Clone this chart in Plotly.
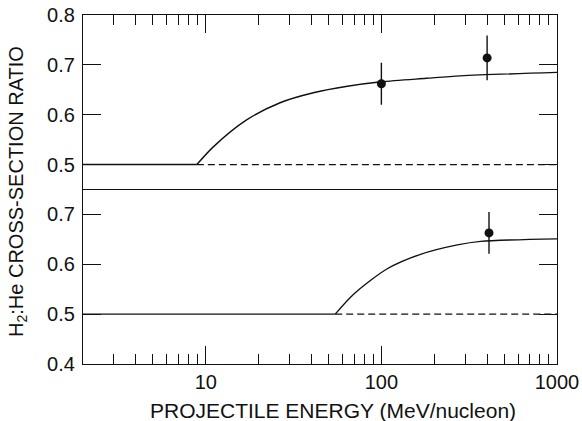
import numpy as np
import plotly.graph_objects as go

# ---- data -------------------------------------------------------------
# panel (a): model curve (rises from the 0.5 baseline above threshold)
a_curve_x = [8.9, 11, 17, 26.5, 41, 64, 100, 180, 282, 1000]
a_curve_y = [0.5, 0.535, 0.589, 0.624, 0.644, 0.657, 0.666, 0.673, 0.678, 0.685]
a_thresh = 8.9
# panel (a): measurements
a_pts_x = [100, 400]
a_pts_y = [0.662, 0.714]
a_pts_err = [0.042, 0.045]

# panel (b): model curve
b_curve_x = [54.6, 69.5, 108, 167, 271, 368, 1000]
b_curve_y = [0.5, 0.54, 0.591, 0.62, 0.639, 0.646, 0.651]
b_thresh = 54.6
# panel (b): measurement
b_pts_x = [410]
b_pts_y = [0.663]
b_pts_err = [0.042]

baseline = 0.5
x_min, x_max = 2, 1000

x_major = [10, 100, 1000]
x_major_text = ["10", "100", "1000"]
x_minor = [v * d for d in (1, 10, 100) for v in range(2, 10) if 2 < v * d < 1000 and v * d not in (10, 100)]

ya_ticks = [0.5, 0.6, 0.7, 0.8]
yb_ticks = [0.4, 0.5, 0.6, 0.7]

FONT = "Liberation Sans, Arial, Helvetica, sans-serif"
BLACK = "#111111"

fig = go.Figure()


def add_panel(xref, yref, thresh, cx, cy, px, py, perr):
    # flat solid segment below threshold
    fig.add_trace(go.Scatter(x=[x_min, thresh], y=[baseline, baseline], mode="lines",
                             line=dict(color=BLACK, width=1.4), xaxis=xref, yaxis=yref,
                             showlegend=False, hoverinfo="skip"))
    # dashed continuation of the baseline
    fig.add_trace(go.Scatter(x=[thresh, x_max], y=[baseline, baseline], mode="lines",
                             line=dict(color=BLACK, width=1.2, dash="7px,4px"),
                             xaxis=xref, yaxis=yref, showlegend=False, hoverinfo="skip"))
    # rising model curve
    fig.add_trace(go.Scatter(x=cx, y=cy, mode="lines",
                             line=dict(color=BLACK, width=1.4, shape="spline", smoothing=0.8),
                             xaxis=xref, yaxis=yref, showlegend=False))
    # measured points
    fig.add_trace(go.Scatter(x=px, y=py, mode="markers",
                             marker=dict(color=BLACK, size=9),
                             error_y=dict(type="data", array=perr, visible=True,
                                          thickness=1.4, width=0, color=BLACK),
                             xaxis=xref, yaxis=yref, showlegend=False))


add_panel("x", "y", a_thresh, a_curve_x, a_curve_y, a_pts_x, a_pts_y, a_pts_err)
add_panel("x2", "y2", b_thresh, b_curve_x, b_curve_y, b_pts_x, b_pts_y, b_pts_err)

xrange = [np.log10(x_min), np.log10(x_max)]
common_x = dict(type="log", range=xrange, showgrid=False, zeroline=False, automargin=False,
                showline=True, linecolor=BLACK, linewidth=1.2,
                ticks="inside", tickvals=x_major, ticktext=x_major_text,
                ticklen=18, tickwidth=1.2, tickcolor=BLACK,
                minor=dict(ticks="inside", tickvals=x_minor, ticklen=10,
                           tickwidth=1.2, tickcolor=BLACK, showgrid=False),
                tickfont=dict(family=FONT, size=20, color=BLACK))
common_y = dict(showgrid=False, zeroline=False, showline=True, linecolor=BLACK,
                linewidth=1.2, mirror="ticks", ticks="inside", ticklen=18,
                tickwidth=1.2, tickcolor=BLACK, automargin=False,
                tickfont=dict(family=FONT, size=20, color=BLACK),
                tickformat=".1f", ticklabelstandoff=3)

fig.update_layout(
    width=582, height=421,
    margin=dict(l=83, r=25, t=15, b=57),
    paper_bgcolor="white", plot_bgcolor="white",
    xaxis=dict(common_x, domain=[0, 1], anchor="y", side="top", showticklabels=False,
               mirror=False),
    yaxis=dict(common_y, domain=[0.5, 1], anchor="x", range=[0.45, 0.8], tickvals=ya_ticks),
    xaxis2=dict(common_x, domain=[0, 1], anchor="y2", matches="x", mirror=True),
    yaxis2=dict(common_y, domain=[0, 0.5], anchor="x2", range=[0.4, 0.75], tickvals=yb_ticks),
)

fig.add_annotation(text="(a)", x=137, y=0.73, xref="x", yref="y", showarrow=False,
                   xanchor="center", yanchor="middle",
                   font=dict(family=FONT, size=17, color=BLACK))
fig.add_annotation(text="(b)", x=137, y=0.684, xref="x2", yref="y2", showarrow=False,
                   xanchor="center", yanchor="middle",
                   font=dict(family=FONT, size=17, color=BLACK))

fig.add_annotation(text="H<sub>2</sub>:He CROSS-SECTION RATIO", textangle=-90,
                   x=(18 - 83) / 474, y=0.493, xref="paper", yref="paper",
                   showarrow=False, xanchor="center", yanchor="middle",
                   font=dict(family=FONT, size=20, color=BLACK))
fig.add_annotation(text="PROJECTILE ENERGY (MeV/nucleon)",
                   x=(333 - 83) / 474, y=(364 - 410) / 349, xref="paper", yref="paper",
                   showarrow=False, xanchor="center", yanchor="middle",
                   font=dict(family=FONT, size=21, color=BLACK))

fig.write_html("out.html")
